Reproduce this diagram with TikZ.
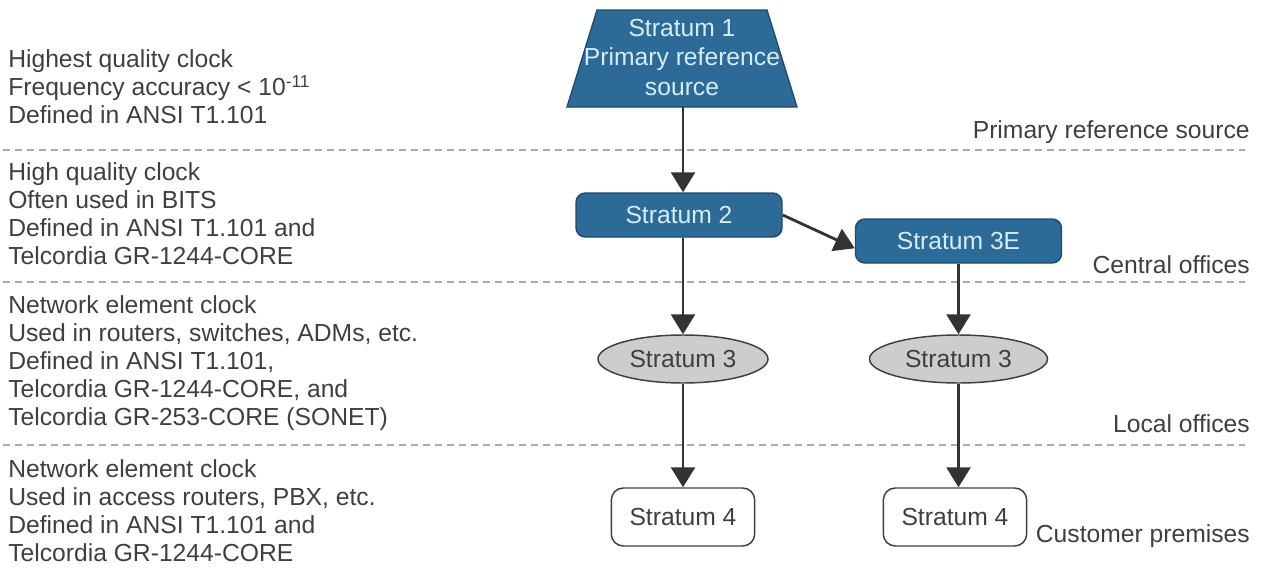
\documentclass[tikz,border=0pt]{standalone}
\usepackage{fontspec}
\setmainfont{Liberation Sans}
\usetikzlibrary{shapes.geometric,arrows.meta}

\definecolor{strblue}{HTML}{2C6A98}
\definecolor{strborder}{HTML}{1E4B6E}
\definecolor{strtext}{HTML}{D6EDF8}
\definecolor{inkgray}{HTML}{3F3F3F}
\definecolor{rulegray}{HTML}{AAAAAA}
\definecolor{ellfill}{HTML}{CDCDCD}
\definecolor{arrowink}{HTML}{333333}

\begin{document}
\begin{tikzpicture}[x=0.75pt,y=-0.75pt,
  every node/.style={font=\fontsize{18.5pt}{21pt}\selectfont, inner sep=0pt},
  bluebox/.style={draw=strborder, line width=1.1pt, fill=strblue, text=strtext,
    rounded corners=7pt, minimum width=154.5pt, minimum height=33pt},
  grayoval/.style={ellipse, draw=inkgray, line width=1.1pt, fill=ellfill,
    text=inkgray, minimum height=36pt},
  whitebox/.style={draw=inkgray, line width=1.1pt, fill=white, text=inkgray,
    rounded corners=9pt, minimum width=107.5pt, minimum height=43.5pt},
  flow/.style={draw=arrowink, line width=2.1pt, -{Triangle[length=15pt,width=18pt]}},
  tier/.style={draw=rulegray, line width=1.5pt, dash pattern=on 5.25pt off 3.75pt},
  note/.style={text=inkgray, align=left, anchor=north west},
  zone/.style={text=inkgray, anchor=base east}]

\useasboundingbox (0,0) rectangle (1268,568);

% tier separators
\draw[tier] (3,150) -- (1245,150);
\draw[tier] (3,282) -- (1245,282);
\draw[tier] (3,445) -- (1245,445);

% clock descriptions per tier
\node[note] (d1) at (8,49.3) {Highest quality clock\\
  Frequency accuracy < 10\textsuperscript{-11}\\
  Defined in ANSI T1.101};
\node[note] (d2) at (8,162.3) {High quality clock\\
  Often used in BITS\\
  Defined in ANSI T1.101 and\\
  Telcordia GR-1244-CORE};
\node[note] (d3) at (8,295.3) {Network element clock\\
  Used in routers, switches, ADMs, etc.\\
  Defined in ANSI T1.101,\\
  Telcordia GR-1244-CORE, and\\
  Telcordia GR-253-CORE (SONET)};
\node[note] (d4) at (8,459.3) {Network element clock\\
  Used in access routers, PBX, etc.\\
  Defined in ANSI T1.101 and\\
  Telcordia GR-1244-CORE};

% location labels
\node[zone] (z1) at (1250,138) {Primary reference source};
\node[zone] (z2) at (1250,273) {Central offices};
\node[zone] (z3) at (1250,432) {Local offices};
\node[zone] (z4) at (1250,542) {Customer premises};

% stratum 1 source
\filldraw[fill=strblue, draw=strborder, line width=1pt]
  (597,10) -- (767,10) -- (797,107) -- (567,107) -- cycle;
\node[text=strtext, align=center, font=\fontsize{18.5pt}{22pt}\selectfont]
  (s1) at (682,57.5) {Stratum 1\\Primary reference\\source};
\coordinate (s1foot) at (683,107);

% lower strata
\node[bluebox] (s2) at (679,215) {Stratum 2};
\node[bluebox] (s3e) at (958.5,241) {Stratum 3E};
\node[grayoval, minimum width=127.5pt] (s3a) at (683,359) {Stratum 3};
\node[grayoval, minimum width=133.5pt] (s3b) at (958.5,359) {Stratum 3};
\node[whitebox] (s4a) at (683,517) {Stratum 4};
\node[whitebox] (s4b) at (955,517) {Stratum 4};

% timing distribution
\draw[flow] (s1foot) -- (s1foot |- s2.north);
\draw[flow] (s2.east) -- (s3e.184);
\draw[flow] (s2.south -| s3a.north) -- (s3a.north);
\draw[flow] (s3a.south) -- (s4a.north);
\draw[flow] (s3e.south -| s3b.north) -- (s3b.north);
\draw[flow] (s3b.south) -- (s3b.south |- s4b.north);
\end{tikzpicture}
\end{document}
